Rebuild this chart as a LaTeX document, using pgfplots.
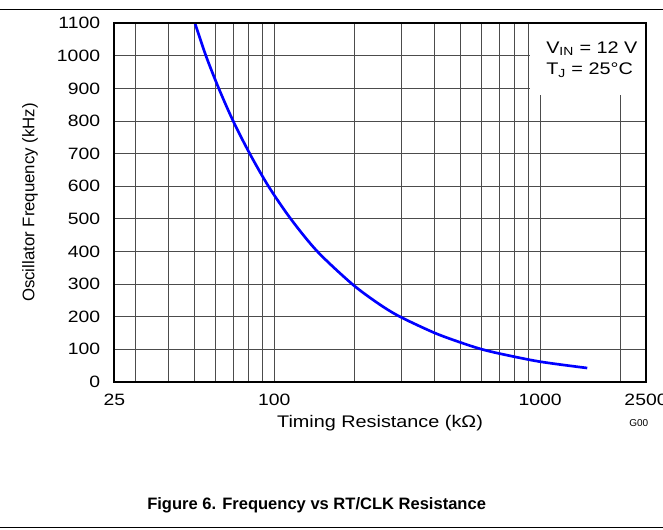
\documentclass[border=0pt]{standalone}
\usepackage{fontspec}
\setmainfont{Liberation Sans}
\newfontfamily\wide{Liberation Sans}[FakeStretch=1.18]
\usepackage{pgfplots}
\pgfplotsset{compat=1.18}

\begin{document}
\begin{tikzpicture}
\useasboundingbox (0,0) rectangle (497.25pt,396.75pt);
\begin{axis}[
  name=ax, at={(85.725pt,110.475pt)}, anchor=south west,
  scale only axis, width=398.775pt, height=268.8pt,
  xmode=log, xmin=25, xmax=2500, ymin=0, ymax=1100,
  xtick={25,100,1000,2500}, xticklabels={25,100,1000,2500},
  minor xtick={30,40,50,60,70,80,90,200,300,400,500,600,700,800,900,2000},
  ytick={0,100,...,1100},
  grid=both,
  major grid style={black!70, line width=0.6pt},
  minor grid style={black!70, line width=0.6pt},
  major tick length=0pt, minor tick length=0pt,
  axis line style={line width=1.75pt},
  tick label style={font=\wide\fontsize{12.3}{14}\selectfont, inner sep=0pt},
  /pgf/number format/assume math mode=true,
  /pgf/number format/1000 sep={},
  xticklabel style={anchor=north, yshift=-8.7pt},
  yticklabel style={anchor=east, xshift=-10.5pt},
]
\addplot[blue, line width=2pt, smooth] coordinates {
  (50.3,1100) (55.3,1000) (61.8,900) (70.0,800) (80.8,700) (95.0,600)
  (115.2,500) (145.0,400) (196.0,300) (246,240) (296,200) (400,150) (499,121)
  (594,101) (706,86) (998,61.5) (1503,42)
};
\fill[white] (axis cs:915,880) rectangle (axis cs:2500,1100);
\end{axis}
\draw[line width=1.75pt] (ax.south west) rectangle (ax.north east);

\begin{scope}[x=0.75pt, y=-0.75pt, shift={(0pt,396.75pt)}]
  \draw[line width=1pt] (0,9.7) -- (663,9.7);
  \draw[line width=1.1pt] (0,527.7) -- (663,527.7);
  \node[anchor=base west, inner sep=0pt, font=\wide\fontsize{12.6}{14}\selectfont]
    at (546,53.3) {V\textsubscript{IN} = 12 V};
  \node[anchor=base west, inner sep=0pt, font=\wide\fontsize{12.6}{14}\selectfont]
    at (546,75) {T\textsubscript{J} = 25°C};
  \node[anchor=base, inner sep=0pt, font=\wide\fontsize{12.6}{14}\selectfont]
    at (380,427) {Timing Resistance (kΩ)};
  \node[rotate=90, inner sep=0pt, font=\fontsize{12.6}{14}\selectfont]
    at (30,202.5) {Oscillator Frequency (kHz)};
  \node[anchor=base west, inner sep=0pt, font=\fontsize{7.5}{9}\selectfont]
    at (629,426) {G00};
  \node[anchor=base west, inner sep=0pt, font=\bfseries\fontsize{12.4}{14}\selectfont]
    at (147,509.3) {Figure 6. Frequency vs RT/CLK Resistance};
\end{scope}
\end{tikzpicture}
\end{document}
